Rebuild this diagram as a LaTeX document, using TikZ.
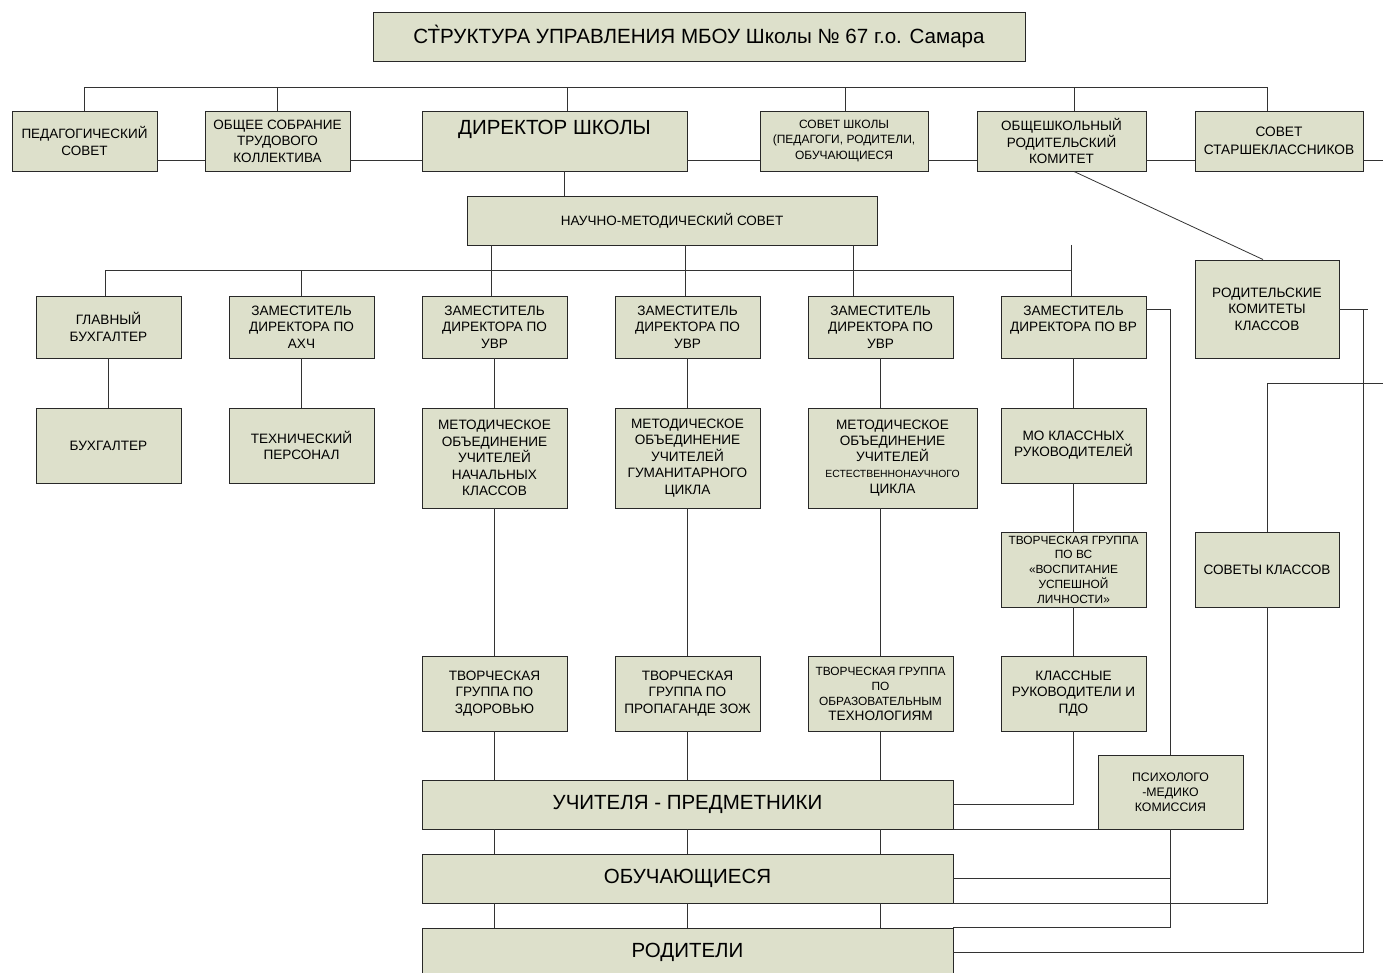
\documentclass[tikz,border=0pt]{standalone}
\usepackage{fontspec}
\setmainfont{Liberation Sans}
\definecolor{boxfill}{RGB}{221,224,203}
\definecolor{edge}{RGB}{40,40,40}
\tikzset{
  box/.style={draw=edge, line width=0.95pt, fill=boxfill, inner sep=1pt, align=center},
  conn/.style={draw=black!80, line width=0.8pt},
}
\newcommand{\fsz}[2]{\fontsize{#1}{#2}\selectfont}
\begin{document}
\begin{tikzpicture}[x=1pt,y=-1pt]
\useasboundingbox (0,0) rectangle (1383,973);
\fill[white] (0,0) rectangle (1383,973);
\clip (0,0) rectangle (1383,973);

% title
\node[box, minimum width=652pt, minimum height=49pt, font=\fsz{20.6}{24}] (title) at (699,36.5) {СТ̀РУКТУРА УПРАВЛЕНИЯ МБОУ Школы № 67 г.о. Самара};

% top row
\node[box, minimum width=145pt, minimum height=60pt, font=\fsz{13.5}{16.5}] (ped) at (84.5,141) {ПЕДАГОГИЧЕСКИЙ\\СОВЕТ};
\node[box, minimum width=145pt, minimum height=60pt, font=\fsz{13.5}{16.5}] (obs) at (277.5,141) {ОБЩЕЕ СОБРАНИЕ\\ТРУДОВОГО\\КОЛЛЕКТИВА};
\node[box, minimum width=265pt, minimum height=60pt, font=\fsz{20.5}{23}, text height=14pt, text depth=26pt] (dir) at (554.5,141) {ДИРЕКТОР ШКОЛЫ};
\node[box, minimum width=168pt, minimum height=60pt, font=\fsz{12}{15.5}] (ss) at (844,141) {СОВЕТ ШКОЛЫ\\(ПЕДАГОГИ, РОДИТЕЛИ,\\ОБУЧАЮЩИЕСЯ};
\node[box, minimum width=169pt, minimum height=60pt, font=\fsz{13.5}{16.5}] (ork) at (1061.5,141) {ОБЩЕШКОЛЬНЫЙ\\РОДИТЕЛЬСКИЙ\\КОМИТЕТ};
\node[box, minimum width=168pt, minimum height=60pt, font=\fsz{13.7}{18}] (sst) at (1279,141) {СОВЕТ\\СТАРШЕКЛАССНИКОВ};

\node[box, minimum width=410pt, minimum height=49pt, font=\fsz{13.5}{16}] (nms) at (672,220.5) {НАУЧНО-МЕТОДИЧЕСКИЙ СОВЕТ};

% second row
\node[box, minimum width=145pt, minimum height=62pt, font=\fsz{13.6}{16.5}] (gb) at (108.5,327) {ГЛАВНЫЙ\\БУХГАЛТЕР};
\node[box, minimum width=145pt, minimum height=62pt, font=\fsz{13.6}{16.5}] (ahch) at (301.5,327) {ЗАМЕСТИТЕЛЬ\\ДИРЕКТОРА ПО\\АХЧ};
\node[box, minimum width=145pt, minimum height=62pt, font=\fsz{13.6}{16.5}] (uvr1) at (494.5,327) {ЗАМЕСТИТЕЛЬ\\ДИРЕКТОРА ПО\\УВР};
\node[box, minimum width=145pt, minimum height=62pt, font=\fsz{13.6}{16.5}] (uvr2) at (687.5,327) {ЗАМЕСТИТЕЛЬ\\ДИРЕКТОРА ПО\\УВР};
\node[box, minimum width=145pt, minimum height=62pt, font=\fsz{13.6}{16.5}] (uvr3) at (880.5,327) {ЗАМЕСТИТЕЛЬ\\ДИРЕКТОРА ПО\\УВР};
\node[box, minimum width=145pt, minimum height=62pt, font=\fsz{13.6}{16.5}] (vr) at (1073.5,327) {ЗАМЕСТИТЕЛЬ\\ДИРЕКТОРА ПО ВР\\\mbox{}};
\node[box, minimum width=144pt, minimum height=98pt, font=\fsz{13.6}{16.5}] (rkk) at (1267,309) {РОДИТЕЛЬСКИЕ\\КОМИТЕТЫ\\КЛАССОВ};

% third row
\node[box, minimum width=145pt, minimum height=75pt, font=\fsz{13.6}{16.5}] (buh) at (108.5,445.5) {БУХГАЛТЕР};
\node[box, minimum width=145pt, minimum height=75pt, font=\fsz{13.6}{16.5}] (tech) at (301.5,445.5) {ТЕХНИЧЕСКИЙ\\ПЕРСОНАЛ};
\node[box, minimum width=145pt, minimum height=100pt, font=\fsz{13.6}{16.5}] (mo1) at (494.5,458) {МЕТОДИЧЕСКОЕ\\ОБЪЕДИНЕНИЕ\\УЧИТЕЛЕЙ\\НАЧАЛЬНЫХ\\КЛАССОВ};
\node[box, minimum width=145pt, minimum height=100pt, font=\fsz{13.6}{16.5}] (mo2) at (687.5,458) {МЕТОДИЧЕСКОЕ\\ОБЪЕДИНЕНИЕ\\УЧИТЕЛЕЙ\\ГУМАНИТАРНОГО\\ЦИКЛА};
\node[box, minimum width=169pt, minimum height=100pt, font=\fsz{13.6}{16}] (mo3) at (892.5,458) {МЕТОДИЧЕСКОЕ\\ОБЪЕДИНЕНИЕ\\УЧИТЕЛЕЙ\\{\fsz{10.4}{15}ЕСТЕСТВЕННОНАУЧНОГО}\\ЦИКЛА};
\node[box, minimum width=145pt, minimum height=75pt, font=\fsz{13.6}{16}] (mokr) at (1073.5,445.5) {МО КЛАССНЫХ\\РУКОВОДИТЕЛЕЙ};

\node[box, minimum width=145pt, minimum height=75pt, font=\fsz{11.9}{14.7}] (tgvs) at (1073.5,569.5) {ТВОРЧЕСКАЯ ГРУППА\\ПО ВС\\«ВОСПИТАНИЕ\\УСПЕШНОЙ\\ЛИЧНОСТИ»};
\node[box, minimum width=144pt, minimum height=75pt, font=\fsz{13.6}{16}] (sk) at (1267,569.5) {СОВЕТЫ КЛАССОВ};

% fourth row
\node[box, minimum width=145pt, minimum height=75pt, font=\fsz{13.6}{16.5}] (tg1) at (494.5,693.5) {ТВОРЧЕСКАЯ\\ГРУППА ПО\\ЗДОРОВЬЮ};
\node[box, minimum width=145pt, minimum height=75pt, font=\fsz{13.6}{16.5}] (tg2) at (687.5,693.5) {ТВОРЧЕСКАЯ\\ГРУППА ПО\\ПРОПАГАНДЕ ЗОЖ};
\node[box, minimum width=145pt, minimum height=75pt, font=\fsz{11.9}{15}] (tg3) at (880.5,693.5) {ТВОРЧЕСКАЯ ГРУППА\\ПО\\ОБРАЗОВАТЕЛЬНЫМ\\{\fsz{13.6}{16}ТЕХНОЛОГИЯМ}};
\node[box, minimum width=145pt, minimum height=75pt, font=\fsz{13.6}{16.5}] (kr) at (1073.5,693.5) {КЛАССНЫЕ\\РУКОВОДИТЕЛИ И\\ПДО};
\node[box, minimum width=145pt, minimum height=74pt, font=\fsz{12.3}{15}] (pmk) at (1170.5,792) {ПСИХОЛОГО\\-МЕДИКО\\КОМИССИЯ};

% bars
\node[box, minimum width=531pt, minimum height=49pt, font=\fsz{20.5}{23}] (uch) at (687.5,804.5) {УЧИТЕЛЯ - ПРЕДМЕТНИКИ};
\node[box, minimum width=531pt, minimum height=49pt, font=\fsz{20.5}{23}] (obu) at (687.5,878.5) {ОБУЧАЮЩИЕСЯ};
\node[box, minimum width=531pt, minimum height=49pt, font=\fsz{20.5}{23}] (rod) at (687.5,952.5) {РОДИТЕЛИ};

% ---- connectors ----
% top bus
\draw[conn] (ped.north) |- (1267,87) -- (sst.north -| 1267,0);
\draw[conn] (obs.north) -- (obs.north |- 0,87);
\draw[conn] (dir.north -| 567,0) -- (567,87);
\draw[conn] (ss.north -| 845,0) -- (845,87);
\draw[conn] (ork.north -| 1074,0) -- (1074,87);
% horizontal links of top row
\draw[conn] (ped.east |- 0,160) -- (obs.west |- 0,160);
\draw[conn] (obs.east |- 0,160) -- (dir.west |- 0,160);
\draw[conn] (dir.east |- 0,160) -- (ss.west |- 0,160);
\draw[conn] (ss.east |- 0,160) -- (ork.west |- 0,160);
\draw[conn] (ork.east |- 0,160) -- (sst.west |- 0,160);
\draw[conn] (sst.east |- 0,160) -- (1383,160);
% director -> council
\draw[conn] (dir.south -| 564,0) -- (nms.north -| 564,0);
% second bus
\draw[conn] (gb.north -| 105,0) |- (1071,270);
\draw[conn] (ahch.north -| 301,0) -- (301,270);
\draw[conn] (nms.south -| 491,0) -- (uvr1.north -| 491,0);
\draw[conn] (nms.south -| 685,0) -- (uvr2.north -| 685,0);
\draw[conn] (nms.south -| 853,0) -- (uvr3.north -| 853,0);
\draw[conn] (1071,245) -- (vr.north -| 1071,0);
% columns
\draw[conn] (gb.south) -- (buh.north);
\draw[conn] (ahch.south) -- (tech.north);
\draw[conn] (uvr1.south) -- (mo1.north);
\draw[conn] (mo1.south) -- (tg1.north);
\draw[conn] (uvr2.south) -- (mo2.north);
\draw[conn] (mo2.south) -- (tg2.north);
\draw[conn] (uvr3.south) -- (uvr3.south |- mo3.north);
\draw[conn] (tg3.north |- mo3.south) -- (tg3.north);
\foreach \t in {tg1,tg2,tg3}{
  \draw[conn] (\t.south) -- (\t.south |- uch.north);
  \draw[conn] (\t.south |- uch.south) -- (\t.south |- obu.north);
  \draw[conn] (\t.south |- obu.south) -- (\t.south |- rod.north);
}
% ВР column
\draw[conn] (vr.south) -- (mokr.north);
\draw[conn] (mokr.south) -- (tgvs.north);
\draw[conn] (tgvs.south) -- (kr.north);
\draw[conn] (kr.south) |- (uch.east);
% right side
\draw[conn] (vr.east |- 0,309) -| (pmk.north);
\draw[conn] (uch.south east) -- (pmk.south west);
\draw[conn] (obu.east) -| (pmk.south);
\draw[conn] (pmk.south) |- (rod.north east);
\draw[conn] (obu.south east) -| (sk.south);
\draw[conn] (sk.north) |- (1383,383);
\draw[conn] (rod.east) -| (1363,309);
\draw[conn] (rkk.east) -- (1368,309);
\draw[conn] (ork.south -| 1074,0) -- (rkk.north -| 1263,0);
\end{tikzpicture}
\end{document}
